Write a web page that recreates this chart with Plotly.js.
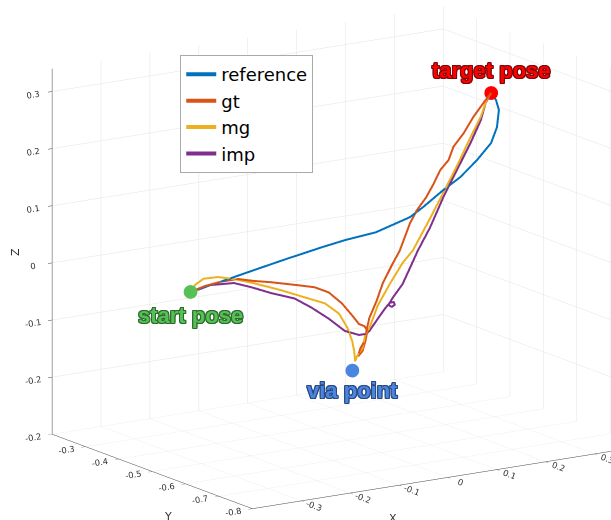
<!DOCTYPE html>
<html>
<head>
<meta charset="utf-8">
<script src="https://cdn.plot.ly/plotly-3.0.1.min.js"></script>
<style>html,body{margin:0;padding:0;background:#fff;}#plot{width:611px;height:520px;}</style>
</head>
<body>
<div id="plot"></div>
<script>
// ---- data ----
const refX = [-0.322,-0.260,-0.192,-0.122,-0.053,-0.006,0.057,0.127,0.154,0.195,0.230,0.264,0.293,0.305,0.309,0.303,0.293];
const refY = [-0.5,-0.5,-0.5,-0.5,-0.5,-0.5,-0.5,-0.5,-0.5,-0.5,-0.5,-0.5,-0.5,-0.5,-0.5,-0.5,-0.5];
const refZ = [0.004,0.013,0.024,0.035,0.045,0.051,0.056,0.073,0.087,0.111,0.129,0.154,0.180,0.206,0.236,0.254,0.268];

const gtX = [-0.322,-0.291,-0.260,-0.225,-0.192,-0.157,-0.101,-0.068,-0.039,-0.012,0.009,0.023,0.034,0.040,0.036,0.030,0.021,0.025,0.034,0.038,0.044,0.059,0.071,0.092,0.106,0.127,0.141,0.160,0.175,0.189,0.206,0.216,0.237,0.257,0.278,0.293];
const gtY = [-0.5,-0.5,-0.5,-0.5,-0.5,-0.5,-0.5,-0.5,-0.5,-0.5,-0.5,-0.5,-0.5,-0.5,-0.5,-0.5,-0.5,-0.5,-0.5,-0.5,-0.5,-0.5,-0.5,-0.5,-0.5,-0.5,-0.5,-0.5,-0.5,-0.5,-0.5,-0.5,-0.5,-0.5,-0.5,-0.5];
const gtZ = [0.004,0.010,0.013,0.013,0.005,-0.002,-0.015,-0.023,-0.036,-0.059,-0.083,-0.100,-0.105,-0.114,-0.131,-0.148,-0.156,-0.144,-0.131,-0.114,-0.092,-0.064,-0.036,-0.003,0.017,0.062,0.083,0.103,0.124,0.147,0.162,0.184,0.205,0.231,0.253,0.268];

const mgX = [-0.322,-0.312,-0.295,-0.266,-0.233,-0.192,-0.136,-0.088,-0.047,-0.018,-0.001,0.009,0.013,0.015,0.019,0.030,0.036,0.044,0.061,0.086,0.112,0.133,0.164,0.195,0.226,0.251,0.272,0.284,0.293];
const mgY = [-0.5,-0.5,-0.5,-0.5,-0.5,-0.5,-0.5,-0.5,-0.5,-0.5,-0.5,-0.5,-0.5,-0.5,-0.5,-0.5,-0.5,-0.5,-0.5,-0.5,-0.5,-0.5,-0.5,-0.5,-0.5,-0.5,-0.5,-0.5,-0.5];
const mgZ = [0.004,0.015,0.023,0.022,0.014,0.001,-0.019,-0.038,-0.054,-0.076,-0.103,-0.128,-0.146,-0.164,-0.155,-0.143,-0.119,-0.110,-0.073,-0.038,-0.005,0.014,0.059,0.106,0.154,0.196,0.229,0.257,0.268];

const impX = [-0.322,-0.302,-0.281,-0.233,-0.198,-0.157,-0.109,-0.074,-0.039,-0.006,0.023,0.036,0.044,0.061,0.077,0.086,0.094,0.096,0.090,0.083,0.092,0.112,0.127,0.143,0.168,0.195,0.230,0.251,0.272,0.282,0.293];
const impY = [-0.5,-0.5,-0.5,-0.5,-0.5,-0.5,-0.5,-0.5,-0.5,-0.5,-0.5,-0.5,-0.5,-0.5,-0.5,-0.5,-0.5,-0.5,-0.5,-0.5,-0.5,-0.5,-0.5,-0.5,-0.5,-0.5,-0.5,-0.5,-0.5,-0.5,-0.5];
const impZ = [0.004,0.006,0.010,0.007,-0.005,-0.021,-0.037,-0.058,-0.082,-0.108,-0.119,-0.119,-0.115,-0.096,-0.079,-0.071,-0.071,-0.076,-0.079,-0.075,-0.063,-0.042,-0.016,0.012,0.049,0.098,0.153,0.186,0.223,0.252,0.268];

const poseNames = ["start pose", "via point", "target pose"];
const poseX = [-0.322, 0.009, 0.293];
const poseY = [-0.5, -0.5, -0.5];
const poseZ = [0.004, -0.179, 0.268];

const xTicks = [-0.3,-0.2,-0.1,0,0.1,0.2,0.3];
const yTicks = [-0.8,-0.7,-0.6,-0.5,-0.4,-0.3,-0.2];
const zTicks = [-0.2,-0.1,0,0.1,0.2,0.3];
const axisTitles = ["X", "Y", "Z"];

// ---- styling ----
const colors = {reference:'#0072BD', gt:'#D95319', mg:'#EDB120', imp:'#7E2F8E'};
const poseColors = ['#55c055', '#4a86e0', '#ff0000'];
const poseOutline = ['#2e6b2e', '#2a4a80', '#7a0a0a'];
const poseShift = [-24, -20, 22];

function line(name, x, y, z) {
  return {type:'scatter3d', mode:'lines', name:name, x:x, y:y, z:z,
          line:{color:colors[name], width:4}, hoverinfo:'skip'};
}
const traces = [
  line('reference', refX, refY, refZ),
  line('gt', gtX, gtY, gtZ),
  line('mg', mgX, mgY, mgZ),
  line('imp', impX, impY, impZ),
  {type:'scatter3d', mode:'markers', x:poseX, y:poseY, z:poseZ, showlegend:false,
   marker:{size:8, color:poseColors, line:{width:0}}, hoverinfo:'skip'}
];

function outline(c){
  return `1px 1px 0 ${c}, -1px -1px 0 ${c}, 1px -1px 0 ${c}, -1px 1px 0 ${c}, 0 1px 0 ${c}, 0 -1px 0 ${c}, 1px 0 0 ${c}, -1px 0 0 ${c}`;
}
const sceneAnnotations = poseNames.map((t,i)=>({
  x:poseX[i], y:poseY[i], z:poseZ[i], text:t, showarrow:false, yshift:poseShift[i],
  font:{family:'Liberation Sans, Arial, sans-serif', size:22, weight:'bold', color:poseColors[i], shadow:outline(poseOutline[i])}
}));

// axis titles placed where the original figure shows them
const titlePos = [{x:393/611, y:1-518/520, a:0}, {x:168/611, y:1-516/520, a:0}, {x:15/611, y:1-252/520, a:-90}];
const titleAnnotations = axisTitles.map((t,i)=>({
  xref:'paper', yref:'paper', x:titlePos[i].x, y:titlePos[i].y, text:t, showarrow:false,
  textangle:titlePos[i].a, xanchor:'center', yanchor:'middle',
  font:{family:'DejaVu Sans, sans-serif', size:11, color:'#333'}
}));

function axis(range, ticks){
  return {
    title:{text:''},
    range:range, tickvals:ticks, ticktext:ticks.map(v=>String(v)),
    showbackground:false, gridcolor:'#e3e3e3', gridwidth:1,
    showline:true, linecolor:'#444', linewidth:1,
    ticks:'outside', ticklen:5, tickcolor:'#444',
    tickfont:{family:'DejaVu Sans, sans-serif', size:10, color:'#333'},
    zeroline:false, showspikes:false, autorange:false
  };
}

const layout = {
  width:611, height:520,
  margin:{l:0, r:0, t:0, b:0},
  paper_bgcolor:'#fff',
  showlegend:true,
  legend:{x:0.295, y:0.894, xanchor:'left', yanchor:'top',
          bgcolor:'#fff', bordercolor:'#aaa', borderwidth:1,
          font:{family:'DejaVu Sans, sans-serif', size:18, color:'#000'}},
  annotations:titleAnnotations,
  scene:{
    domain:{x:[0,1], y:[0,1]},
    xaxis:axis([-0.4,0.4], xTicks),
    yaxis:axis([-0.8,-0.2], yTicks),
    zaxis:axis([-0.3,0.34], zTicks),
    aspectmode:'manual',
    aspectratio:{x:1.799, y:1.404, z:1.450},
    camera:{
      projection:{type:'orthographic'},
      eye:{x:-1.075, y:-1.342, z:0.420},
      center:{x:-0.137, y:0.088, z:-0.010},
      up:{x:0, y:0, z:1}
    },
    annotations:sceneAnnotations
  }
};

Plotly.newPlot('plot', traces, layout, {displayModeBar:false});
</script>
</body>
</html>
